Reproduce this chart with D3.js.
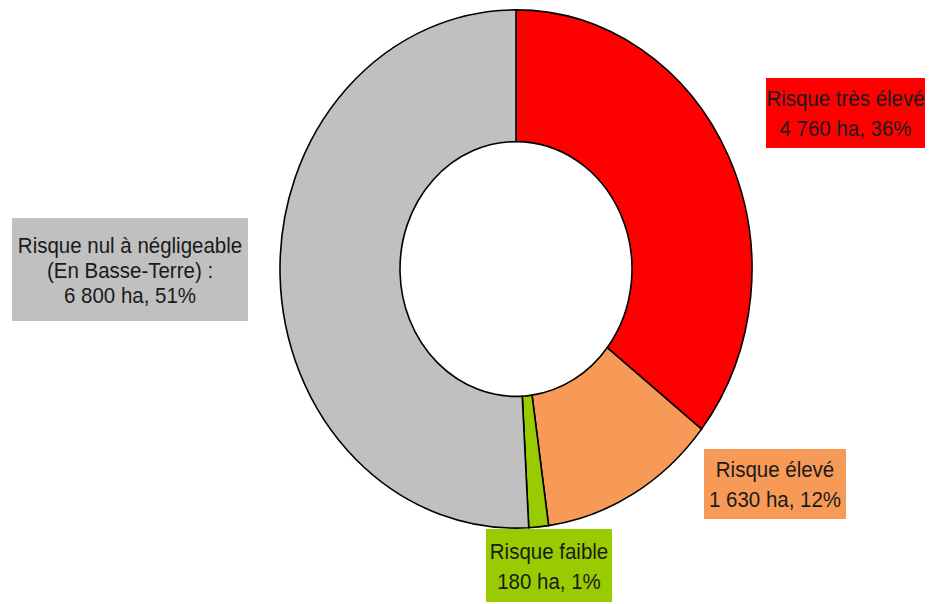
<!DOCTYPE html>
<html><head><meta charset="utf-8">
<script src="https://cdn.jsdelivr.net/npm/d3@7"></script>
<style>html,body{margin:0;padding:0;background:#fff;}svg{display:block;}</style>
</head><body>
<svg id="c" width="935" height="604"></svg>
<script>
const categories = ["Risque très élevé", "Risque élevé", "Risque faible", "Risque nul à négligeable"];
const subtitles = ["", "", "", "(En Basse-Terre) :"];
const values = [4760, 1630, 180, 6800];
const percents = [36, 12, 1, 51];
const colors = ["#ff0000", "#f79a58", "#99cc00", "#c0c0c0"];

const svg = d3.select("#c");
const cx = 516, cy = 269, rOuter = 236, rInner = 116, yStretch = 1.098;

const pie = d3.pie().sort(null).value(d => d)(values);
const arc = d3.arc().innerRadius(rInner).outerRadius(rOuter);

const g = svg.append("g").attr("transform", `translate(${cx},${cy}) scale(1,${yStretch})`);
g.selectAll("path").data(pie).join("path")
  .attr("d", arc)
  .attr("fill", (d, i) => colors[i])
  .attr("stroke", "#000")
  .attr("stroke-width", 1.6)
  .attr("vector-effect", "non-scaling-stroke");

const fmt = v => d3.format(",")(v).replace(/,/g, " ");
// label boxes: [x, y, w, h]
const boxes = [[766, 78, 159, 70], [704, 449, 142, 70], [486, 529, 126, 73], [12, 218, 236, 103]];
boxes.forEach((b, i) => {
  const lines = [categories[i]];
  if (subtitles[i]) lines.push(subtitles[i]);
  lines.push(`${fmt(values[i])} ha, ${percents[i]}%`);
  svg.append("rect").attr("x", b[0]).attr("y", b[1]).attr("width", b[2]).attr("height", b[3])
    .attr("fill", colors[i]);
  const lh = (lines.length === 3 ? 25 : 30) / 1.1;
  const mx = b[0] + b[2] / 2, my = b[1] + b[3] / 2;
  const t = svg.append("text")
    .attr("transform", `translate(${mx},${my}) scale(1,1.1)`)
    .attr("text-anchor", "middle")
    .attr("font-family", "Liberation Sans, Arial, sans-serif")
    .attr("font-size", 20.5)
    .attr("fill", "#1a1a1a");
  lines.forEach((l, k) => {
    t.append("tspan").attr("x", 0)
      .attr("y", (k - (lines.length - 1) / 2) * lh)
      .attr("dy", "0.36em")
      .text(l);
  });
});
</script>
</body></html>
